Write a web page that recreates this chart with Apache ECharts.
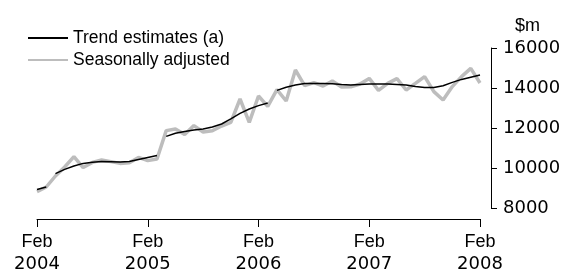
<!DOCTYPE html>
<html>
<head>
    <meta charset="utf-8" />
    <title>Trend and seasonally adjusted</title>
    <script src="https://cdn.jsdelivr.net/npm/echarts@6/dist/echarts.min.js"></script>
    <style>
        body { margin: 0; background: #fff; }
        #main { width: 565px; height: 271px; }
    </style>
</head>
<body>
    <div id="main"></div>
    <script type="text/javascript">
        // months Feb 2004 .. Feb 2008
        var monthNames = ['Jan', 'Feb', 'Mar', 'Apr', 'May', 'Jun', 'Jul', 'Aug', 'Sep', 'Oct', 'Nov', 'Dec'];
        var startYear = 2004, startMonth = 1, monthCount = 49;

        var trend = [8930, 9050, 9720, 9930, 10100, 10230, 10290, 10320, 10310, 10300, 10330, 10430,
            10530, 10630, 11580, 11740, 11830, 11900, 11950, 12050, 12200, 12460, 12730, 12950,
            13120, 13250, 13880, 14040, 14150, 14220, 14230, 14220, 14210, 14170, 14150, 14180,
            14200, 14200, 14200, 14180, 14150, 14080, 14030, 14020, 14110, 14280, 14430, 14540,
            14650];
        // trend line restarts at these points
        var trendBreaks = [2, 14, 26];

        var seasAdj = [8820, 9050, 9600, 10050, 10570, 10020, 10280, 10400, 10320, 10230, 10260, 10530,
            10370, 10450, 11870, 11950, 11680, 12120, 11800, 11860, 12100, 12280, 13450, 12280,
            13600, 13080, 13920, 13350, 14900, 14120, 14270, 14100, 14350, 14050, 14060, 14200,
            14480, 13880, 14230, 14470, 13900, 14230, 14570, 13820, 13400, 14070, 14570, 14980,
            14250];

        var yTicks = [8000, 10000, 12000, 14000, 16000];

        var months = [];
        for (var i = 0; i < monthCount; i++) {
            var m = (startMonth + i) % 12;
            var y = startYear + Math.floor((startMonth + i) / 12);
            months.push(monthNames[m] + ' ' + y);
        }

        var series = [{
            name: 'Seasonally adjusted',
            type: 'line',
            symbol: 'none',
            z: 2,
            lineStyle: { color: '#bdbdbd', width: 3.5 },
            itemStyle: { color: '#bdbdbd' },
            data: seasAdj
        }];

        var cuts = [0].concat(trendBreaks).concat([monthCount]);
        for (var s = 0; s < cuts.length - 1; s++) {
            var seg = [];
            for (var k = 0; k < monthCount; k++) {
                seg.push(k >= cuts[s] && k < cuts[s + 1] ? trend[k] : '-');
            }
            series.push({
                name: 'Trend estimates (a)',
                type: 'line',
                symbol: 'none',
                z: 3,
                lineStyle: { color: '#000', width: 1.5 },
                itemStyle: { color: '#000' },
                data: seg
            });
        }

        var myChart = echarts.init(document.getElementById('main'));
        var option = {
            animation: false,
            legend: {
                orient: 'vertical',
                left: 22,
                top: 24,
                itemWidth: 40,
                itemHeight: 16,
                itemGap: 4,
                itemStyle: { opacity: 0 },
                data: ['Trend estimates (a)', 'Seasonally adjusted'],
                textStyle: { fontFamily: 'Liberation Sans', fontSize: 17.5, color: '#000' }
            },
            grid: { left: 37, right: 85, top: 48, bottom: 63, outerBoundsMode: 'none' },
            xAxis: {
                type: 'category',
                boundaryGap: false,
                data: months,
                offset: 11,
                axisLine: { lineStyle: { color: '#000', width: 1 } },
                axisTick: { interval: 11, length: 8, lineStyle: { color: '#000' } },
                axisLabel: {
                    interval: 11,
                    margin: 12,
                    formatter: function (v) {
                        var p = v.split(' ');
                        return '{m|' + p[0] + '}\n{y|' + p[1] + '}';
                    },
                    rich: {
                        m: { fontFamily: 'Liberation Sans', fontSize: 18, color: '#000', lineHeight: 22 },
                        y: { fontFamily: 'DejaVu Sans', fontSize: 18, color: '#000', lineHeight: 22 }
                    }
                },
                splitLine: { show: false }
            },
            yAxis: {
                type: 'value',
                position: 'right',
                offset: 11,
                min: yTicks[0],
                max: yTicks[yTicks.length - 1],
                interval: 2000,
                name: '$m',
                nameLocation: 'end',
                nameGap: 13,
                nameTextStyle: {
                    fontFamily: 'Liberation Sans', fontSize: 18, color: '#000',
                    align: 'left', verticalAlign: 'bottom', padding: [0, 0, 0, 24]
                },
                axisLine: { show: true, lineStyle: { color: '#000', width: 1 } },
                axisTick: { show: true, length: 6, lineStyle: { color: '#000' } },
                axisLabel: {
                    margin: 12, fontFamily: 'DejaVu Sans', fontSize: 18, color: '#000',
                    formatter: function (v) { return String(v); }
                },
                splitLine: { show: false }
            },
            series: series
        };
        myChart.setOption(option);
    </script>
</body>
</html>
